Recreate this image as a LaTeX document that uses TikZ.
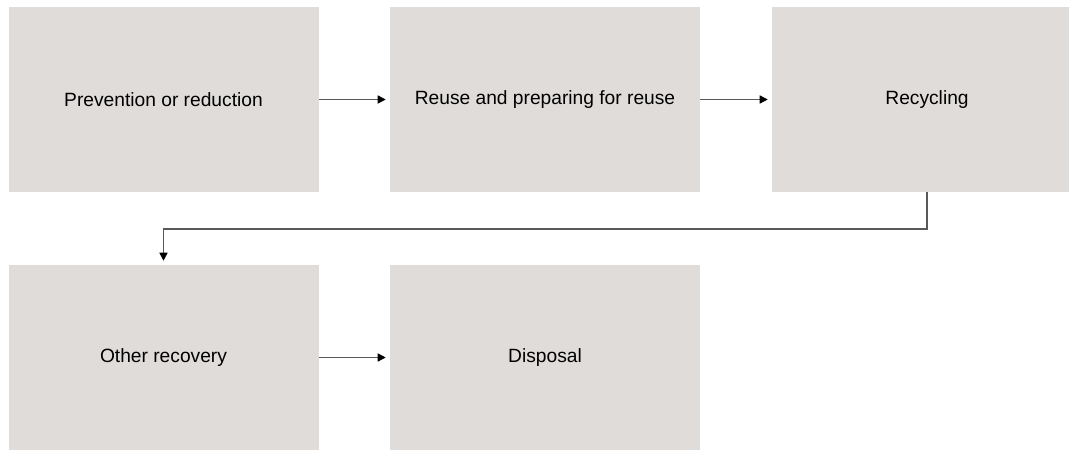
\documentclass[tikz,border=0pt]{standalone}
\usepackage{fontspec}
\setmainfont{Liberation Sans}
\usetikzlibrary{arrows.meta}
\definecolor{boxgray}{HTML}{E0DCDA}
\definecolor{linegray}{HTML}{595959}

\begin{document}
\begin{tikzpicture}[x=0.75pt,y=-0.75pt,
  stage node/.style={fill=boxgray,minimum width=232.5pt,minimum height=138.75pt,inner sep=0pt,font=\fontsize{14.4}{17}\selectfont},
  flow line/.style={draw=linegray,line width=1.1pt,-{Triangle[length=6pt,width=6pt,black]},shorten >=3pt}]

\useasboundingbox (0,0) rectangle (1069,449);
\clip (0,0) rectangle (1069,449);

\node[stage node] (n0) at (163.5,99.5) {Prevention or reduction};
\node[stage node] (n1) at (545,99.5) {Reuse and preparing for reuse};
\node[stage node] (n2) at (927,99.5) {Recycling};
\node[stage node] (n3) at (163.5,357.5) {Other recovery};
\node[stage node] (n4) at (545,357.5) {Disposal};

\coordinate (c0) at (163.5,229);

\path (n0) [flow line] edge (n1);
\path (n1) [flow line] edge (n2);
\path (n3) [flow line] edge (n4);
\draw[flow line] (n2.south) -- (n2.south |- c0) -| (n3.north);

\end{tikzpicture}
\end{document}
